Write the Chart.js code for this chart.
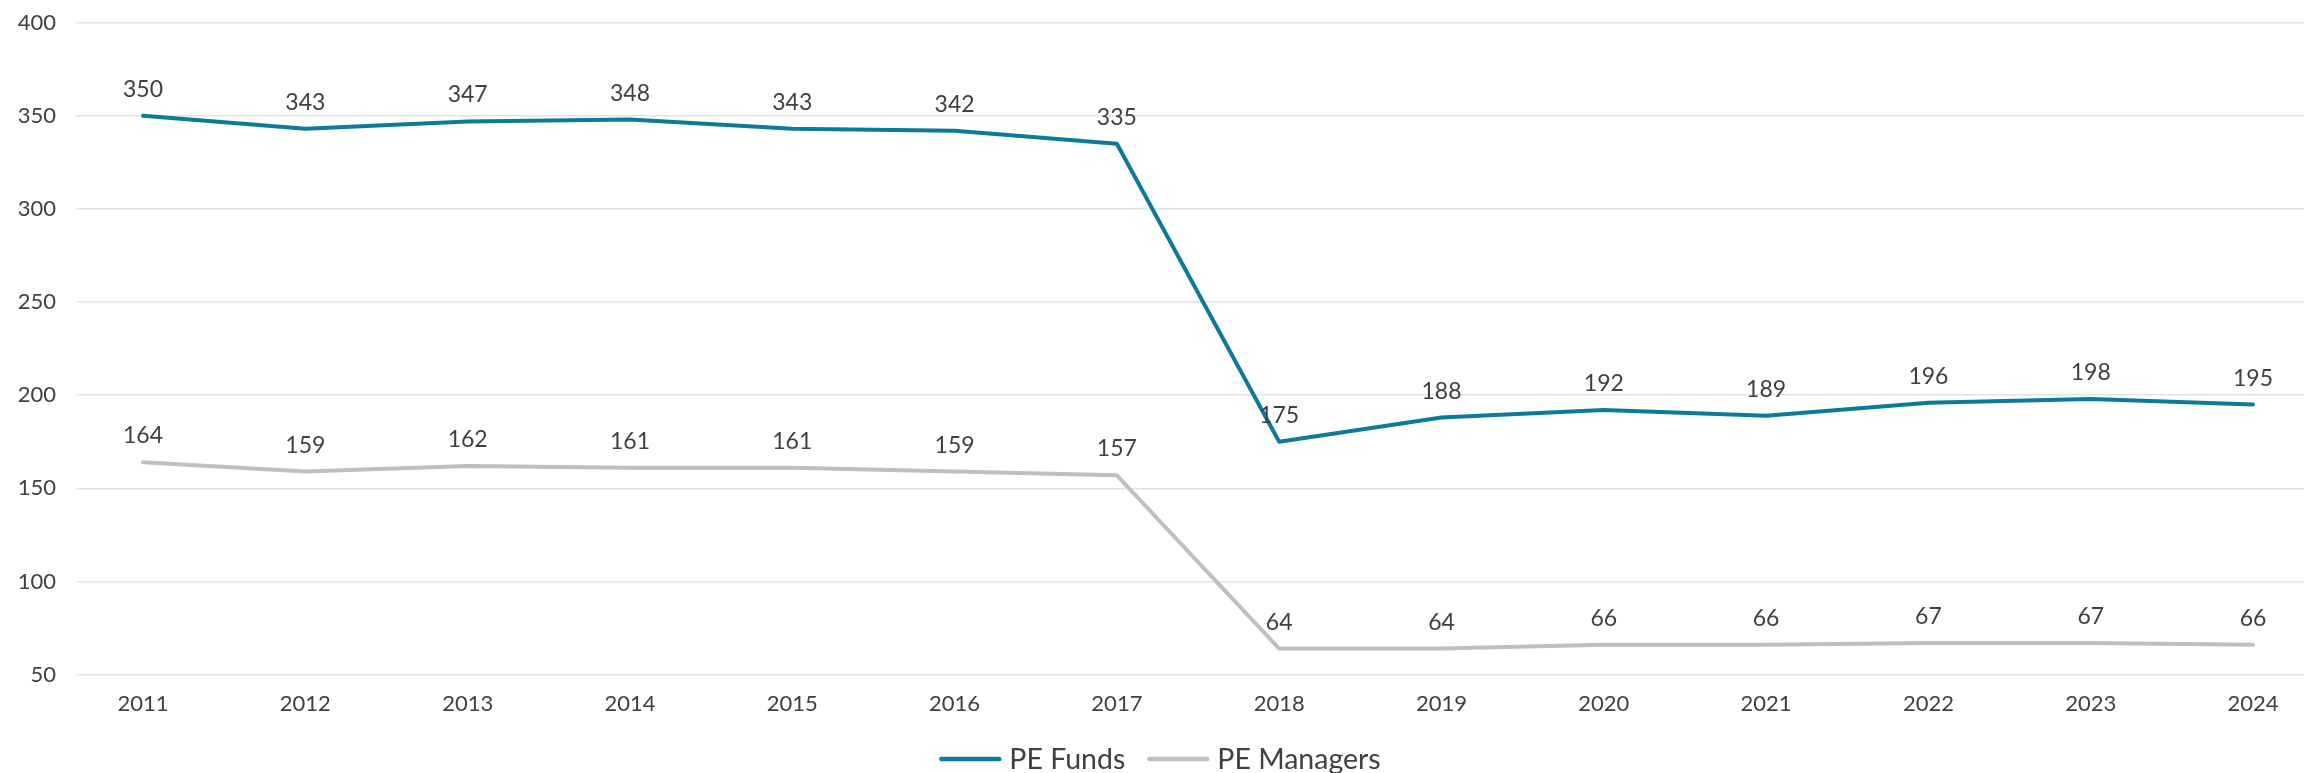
<!DOCTYPE html>
<html>
<head>
<meta charset="utf-8">
<script src="https://cdn.jsdelivr.net/npm/chart.js@4.4.1/dist/chart.umd.min.js"></script>
<style>
  html, body { margin: 0; padding: 0; background: #ffffff; overflow: hidden; }
  #wrap { position: relative; width: 2304px; height: 773px; }
</style>
</head>
<body>
<div id="wrap"><canvas id="c"></canvas></div>
<script>
const categories = ['2011','2012','2013','2014','2015','2016','2017','2018','2019','2020','2021','2022','2023','2024'];
const peFunds = [350, 343, 347, 348, 343, 342, 335, 175, 188, 192, 189, 196, 198, 195];
const peManagers = [164, 159, 162, 161, 161, 159, 157, 64, 64, 66, 66, 67, 67, 66];
const yTicks = [50, 100, 150, 200, 250, 300, 350, 400];
const seriesNames = ['PE Funds', 'PE Managers'];

const TEAL = '#0E7A99';
const GREY = '#BFBFBF';
const TEXT = '#404040';
const FONT = 'Lato, "Open Sans", sans-serif';

const toPoints = vals => categories.map((c, i) => ({ x: Number(c), y: vals[i] }));

const valueLabels = {
  id: 'valueLabels',
  afterDatasetsDraw(chart) {
    const ctx = chart.ctx;
    ctx.save();
    ctx.font = '23px ' + FONT;
    ctx.fillStyle = TEXT;
    ctx.textAlign = 'center';
    ctx.textBaseline = 'alphabetic';
    chart.data.datasets.forEach((ds, di) => {
      const meta = chart.getDatasetMeta(di);
      meta.data.forEach((el, i) => {
        ctx.fillText(String(ds.data[i].y), el.x, el.y - 19);
      });
    });
    ctx.restore();
  }
};

const customLegend = {
  id: 'customLegend',
  afterDraw(chart) {
    const ctx = chart.ctx;
    ctx.save();
    ctx.font = '28.5px ' + FONT;
    const lineLen = 62, gap = 8, itemGap = 22;
    const items = chart.data.datasets.map(ds => ({ text: ds.label, color: ds.borderColor, w: ctx.measureText(ds.label).width }));
    let total = 0;
    items.forEach((it, i) => { total += lineLen + gap + it.w + (i ? itemGap : 0); });
    let x = chart.width / 2 + 8 - total / 2;
    const yLine = 759;
    items.forEach(it => {
      ctx.strokeStyle = it.color;
      ctx.lineWidth = 4.5;
      ctx.lineCap = 'round';
      ctx.beginPath();
      ctx.moveTo(x + 2, yLine);
      ctx.lineTo(x + lineLen - 2, yLine);
      ctx.stroke();
      ctx.fillStyle = TEXT;
      ctx.textAlign = 'left';
      ctx.textBaseline = 'alphabetic';
      ctx.fillText(it.text, x + lineLen + gap, 769);
      x += lineLen + gap + it.w + itemGap;
    });
    ctx.restore();
  }
};

new Chart(document.getElementById('c'), {
  type: 'line',
  data: {
    datasets: [
      { label: seriesNames[0], data: toPoints(peFunds), borderColor: TEAL, backgroundColor: TEAL,
        borderWidth: 4, pointRadius: 0, tension: 0, borderCapStyle: 'round', borderJoinStyle: 'round' },
      { label: seriesNames[1], data: toPoints(peManagers), borderColor: GREY, backgroundColor: GREY,
        borderWidth: 4, pointRadius: 0, tension: 0, borderCapStyle: 'round', borderJoinStyle: 'round' }
    ]
  },
  options: {
    responsive: true,
    maintainAspectRatio: false,
    animation: false,
    events: [],
    layout: { padding: { top: 22.7, left: 0, right: 0, bottom: 0 } },
    plugins: {
      legend: { display: false },
      tooltip: { enabled: false },
      title: { display: false }
    },
    scales: {
      x: {
        type: 'linear',
        min: 2010.587,
        max: 2024.314,
        afterBuildTicks(scale) { scale.ticks = categories.map(c => ({ value: Number(c) })); },
        afterFit(scale) { scale.height = 98.4; scale.paddingLeft = 0; scale.paddingRight = 0; scale.paddingTop = 0; scale.paddingBottom = 0; },
        grid: { display: false, drawTicks: false },
        border: { display: false },
        ticks: {
          autoSkip: false,
          maxRotation: 0,
          padding: 16,
          color: TEXT,
          font: { family: FONT, size: 22 },
          callback: (v) => categories.find(c => Number(c) === v) || ''
        }
      },
      y: {
        min: 50,
        max: 400,
        afterBuildTicks(scale) { scale.ticks = yTicks.map(v => ({ value: v })); },
        afterFit(scale) { scale.width = 76; scale.paddingTop = 0; scale.paddingBottom = 0; scale.paddingLeft = 0; scale.paddingRight = 0; },
        grid: { color: '#E4E4E4', lineWidth: 1.5, drawTicks: false },
        border: { display: false },
        ticks: {
          padding: 20,
          color: TEXT,
          font: { family: FONT, size: 22 }
        }
      }
    }
  },
  plugins: [valueLabels, customLegend]
});
</script>
</body>
</html>
